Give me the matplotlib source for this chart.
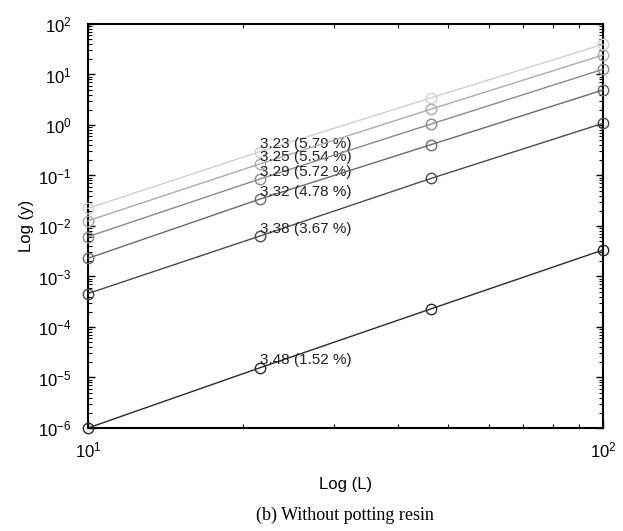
import numpy as np
import matplotlib
matplotlib.use("Agg")
import matplotlib.pyplot as plt
from matplotlib.ticker import NullFormatter

plt.rcParams['font.family'] = ['Liberation Sans', 'DejaVu Sans']
plt.rcParams['mathtext.default'] = 'regular'
plt.rcParams['axes.unicode_minus'] = False

# Data
L = [10, 21.54, 46.42, 100]
y1 = [2.24e-2, 0.296, 3.47, 39.6]
y2 = [1.27e-2, 0.169, 2.07, 24.3]
y3 = [6.15e-3, 8.5e-2, 1.05, 12.7]
y4 = [2.29e-3, 3.4e-2, 0.41, 4.93]
y5 = [4.6e-4, 6.3e-3, 8.8e-2, 1.08]
y6 = [1.0e-6, 1.55e-5, 2.3e-4, 3.35e-3]
series = [y1, y2, y3, y4, y5, y6]
labels = ['3.23 (5.79 %)', '3.25 (5.54 %)', '3.29 (5.72 %)',
          '3.32 (4.78 %)', '3.38 (3.67 %)', '3.48 (1.52 %)']
colors = ['#cfcfcf', '#ababab', '#8a8a8a', '#6a6a6a', '#4a4a4a', '#2a2a2a']

fig = plt.figure(figsize=(6.23, 5.31), dpi=100)
ax = fig.add_axes([0.1413, 0.194, 0.8266, 0.7608])

for ys, lab, c in zip(series, labels, colors):
    ax.plot(L, ys, '-o', color=c, lw=1.0, mfc='none', mec=c,
            markersize=7.5, mew=1.0, clip_on=False, zorder=3)
    ax.annotate(lab, xy=(L[1], ys[1]), xytext=(0, 2.5),
                textcoords='offset points', ha='left', va='baseline',
                fontsize=11, color='#222222')

ax.set_xscale('log')
ax.set_yscale('log')
ax.set_xlim(10, 100)
ax.set_ylim(1e-6, 1e2)
ax.set_yticks([10.0**k for k in range(-6, 3)])
ax.set_xticks([10, 100])
ax.xaxis.set_minor_formatter(NullFormatter())
ax.yaxis.set_minor_formatter(NullFormatter())
ax.tick_params(which='both', direction='in', top=True, right=True,
               labelsize=12, colors='black')
ax.tick_params(which='major', length=5, width=1)
ax.tick_params(which='minor', length=3, width=0.8)
ax.tick_params(axis='x', which='major', pad=9)
ax.tick_params(axis='y', which='major', pad=12)
for s in ax.spines.values():
    s.set_linewidth(1.5)

ax.set_xlabel('Log (L)', fontsize=12, labelpad=12)
ax.set_ylabel('Log (y)', fontsize=12, labelpad=3)

fig.text(0.554, 0.014, '(b) Without potting resin', ha='center', va='bottom',
         fontsize=13, family=['Liberation Serif', 'DejaVu Serif'])

fig.savefig('out.png', dpi=100)
